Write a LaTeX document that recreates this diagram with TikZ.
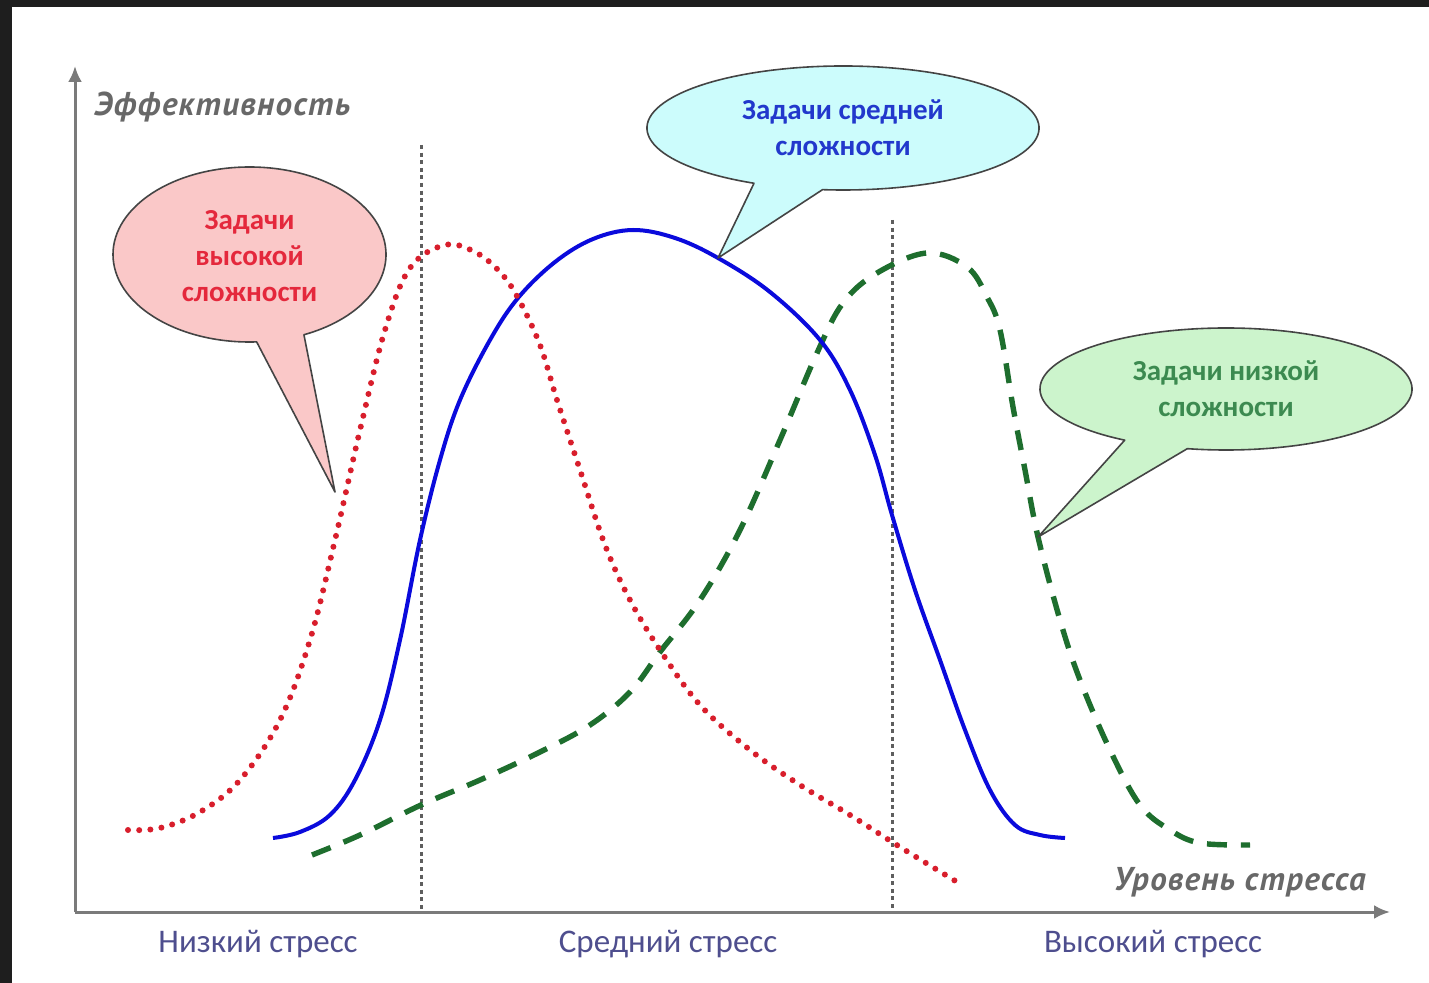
\documentclass[tikz,border=0pt]{standalone}
\usepackage{fontspec}
\setmainfont{Carlito}
\newfontfamily\axfont[LetterSpace=4]{PT Sans}
\usetikzlibrary{arrows.meta}
\definecolor{framecol}{HTML}{1E1E1E}
\definecolor{axiscol}{HTML}{7A7A7A}
\definecolor{gridcol}{HTML}{5E5E5E}
\definecolor{redcurve}{HTML}{D81E2C}
\definecolor{bluecurve}{HTML}{0A0ADC}
\definecolor{greencurve}{HTML}{1E6E2E}
\definecolor{redfill}{HTML}{FAC8C8}
\definecolor{bluefill}{HTML}{CCFCFC}
\definecolor{greenfill}{HTML}{CCF4CC}
\definecolor{redtext}{HTML}{E4283C}
\definecolor{bluetext}{HTML}{2238CC}
\definecolor{greentext}{HTML}{3C8A50}
\definecolor{stresstext}{HTML}{4E4E8E}
\definecolor{outline}{HTML}{444444}
\tikzset{
  axisline/.style={draw=axiscol, line width=1.5pt, -{Latex[length=8pt,width=7pt]}},
  axlabel/.style={text=axiscol!85!black, font=\axfont\bfseries\itshape\fontsize{16.5}{19}\selectfont, inner sep=0pt},
  zoneline/.style={draw=gridcol, line width=1.5pt, dash pattern=on 2pt off 1.8pt},
  stresslabel/.style={text=stresstext, font=\fontsize{16.5}{19}\selectfont, inner sep=0pt},
  bubbletext/.style={font=\bfseries\fontsize{14.5}{18}\selectfont, align=center, inner sep=0pt},
  bubble/.style={draw=outline, line width=0.8pt, line join=round},
  redline/.style={draw=redcurve, line width=3pt, line cap=round, dash pattern=on 0pt off 5.6pt},
  blueline/.style={draw=bluecurve, line width=2pt},
  greenline/.style={draw=greencurve, line width=2.7pt, dash pattern=on 10pt off 7pt},
}
\begin{document}
\begin{tikzpicture}[x=0.5pt,y=-0.5pt]
\fill[framecol] (0,0) rectangle (1429,983);
\fill[white] (12,7) rectangle (1429,983);
\useasboundingbox (0,0) rectangle (1429,983);

% zone separators
\coordinate (v1top) at (421,145);
\coordinate (v1bot) at (421,912);
\coordinate (v2top) at (892,220);
\coordinate (v2bot) at (892,912);
\draw[zoneline] (v1top) -- (v1bot);
\draw[zoneline] (v2top) -- (v2bot);

% axes
\coordinate (O) at (75,912);
\coordinate (yend) at (75,66);
\coordinate (xend) at (1390,912);
\draw[axisline] (O) -- (yend);
\draw[axisline] (O) -- (xend);
\node[axlabel, anchor=west] (ylab) at (94,107) {Эффективность};
\node[axlabel, anchor=east] (xlab) at (1366,882) {Уровень стресса};

% stress zones
\node[stresslabel] (low) at (258,944) {Низкий стресс};
\node[stresslabel] (mid) at (668,944) {Средний стресс};
\node[stresslabel] (high) at (1153,944) {Высокий стресс};

% curves
\draw[greenline] plot[smooth, tension=0.6] coordinates {(312,855) (360,835) (421,805) (480,780) (540,752) (590,725) (630,692) (660,652) (700,600) (740,530) (780,440) (817,353) (843,303) (877,273) (927,253) (967,267) (987,297) (1000,330) (1013,407) (1025,470) (1038,537) (1060,620) (1080,680) (1110,750) (1140,805) (1170,830) (1200,843) (1250,845)};
\draw[blueline] plot[smooth, tension=0.6] coordinates {(273,838) (300,832) (330,815) (355,780) (380,720) (400,640) (420,540) (440,460) (460,400) (490,340) (518,298) (555,262) (593,239) (633,230) (675,238) (718,258) (770,292) (820,340) (850,390) (875,455) (892,515) (915,590) (940,660) (965,730) (990,790) (1015,825) (1040,835) (1065,838)};
\draw[redline] plot[smooth, tension=0.6] coordinates {(128,830) (160,828) (200,812) (240,780) (280,720) (310,640) (335,540) (360,430) (385,330) (410,268) (445,245) (475,252) (500,272) (518,298) (540,345) (557,400) (580,470) (605,545) (630,600) (660,650) (700,705) (750,750) (800,785) (850,815) (900,847) (962,885)};

% bubbles
\coordinate (redc) at (249.5,254.5);
\coordinate (redtip) at (335,492);
\draw[bubble, fill=redfill] (redc) ++(87:136.5 and 87.5) arc[start angle=87, end angle=426.5, x radius=136.5, y radius=87.5] -- (redtip) -- cycle;
\node[bubbletext, text=redtext] (redlabel) at ([yshift=-1pt]redc) {Задачи\\высокой\\сложности};

\coordinate (bluec) at (843,128);
\coordinate (bluetip) at (718,258);
\draw[bubble, fill=bluefill] (bluec) ++(117:196 and 62) arc[start angle=117, end angle=456, x radius=196, y radius=62] -- (bluetip) -- cycle;
\node[bubbletext, text=bluetext] (bluelabel) at (bluec) {Задачи средней\\сложности};

\coordinate (greenc) at (1226,389);
\coordinate (greentip) at (1038,537);
\draw[bubble, fill=greenfill] (greenc) ++(123:186 and 61) arc[start angle=123, end angle=462, x radius=186, y radius=61] -- (greentip) -- cycle;
\node[bubbletext, text=greentext] (greenlabel) at (greenc) {Задачи низкой\\сложности};
\end{tikzpicture}
\end{document}
